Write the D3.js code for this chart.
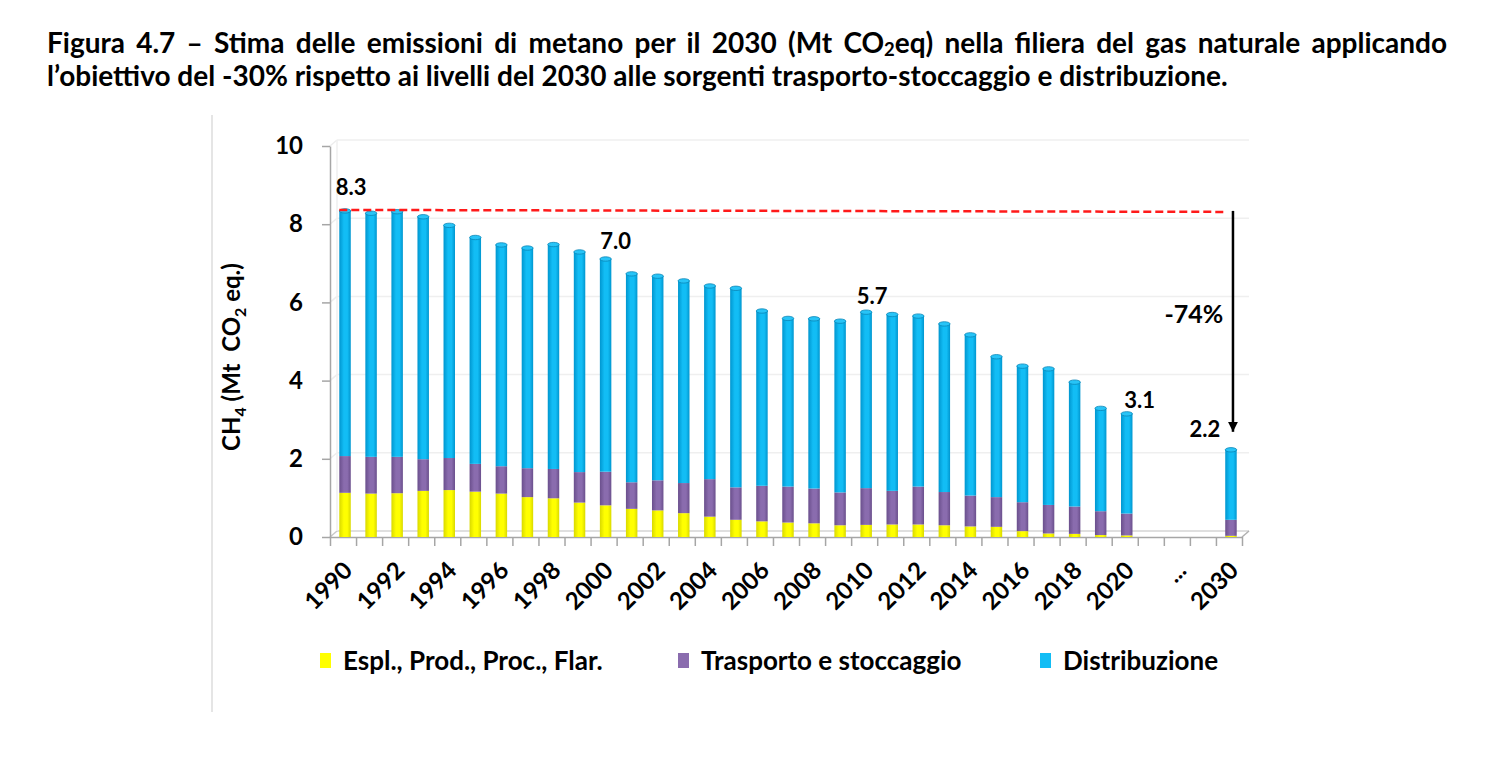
<!DOCTYPE html>
<html>
<head>
<meta charset="utf-8">
<script src="https://cdn.jsdelivr.net/npm/d3@7"></script>
<style>
	body { margin: 0; background: #fff; }
	svg { display: block; font-family: Lato, "Open Sans", sans-serif; font-weight: bold; }
</style>
</head>
<body>
<svg id="chart" width="1500" height="757"></svg>
<script>
//Categories: the years, then two empty slots around "..." and the 2030 target
var categories = ["1990","1991","1992","1993","1994","1995","1996","1997","1998","1999",
	"2000","2001","2002","2003","2004","2005","2006","2007","2008","2009",
	"2010","2011","2012","2013","2014","2015","2016","2017","2018","2019",
	"2020","gapA","...","gapB","2030"];

var tickLabels = ["1990","","1992","","1994","","1996","","1998","",
	"2000","","2002","","2004","","2006","","2008","",
	"2010","","2012","","2014","","2016","","2018","",
	"2020","","...","","2030"];

//Mt CO2 eq.
var espl = [1.13,1.11,1.12,1.18,1.20,1.16,1.11,1.02,0.99,0.88,
	0.81,0.72,0.68,0.61,0.52,0.44,0.40,0.37,0.35,0.30,
	0.31,0.32,0.32,0.30,0.27,0.26,0.15,0.09,0.08,0.05,
	0.04,null,null,null,0.03];

var trasporto = [0.94,0.94,0.93,0.81,0.82,0.71,0.70,0.74,0.75,0.78,
	0.86,0.68,0.77,0.77,0.96,0.83,0.91,0.92,0.89,0.84,
	0.94,0.86,0.97,0.85,0.79,0.76,0.74,0.73,0.70,0.61,
	0.56,null,null,null,0.41];

var distribuzione = [6.27,6.23,6.27,6.20,5.95,5.79,5.66,5.63,5.74,5.63,
	5.44,5.33,5.22,5.17,4.94,5.09,4.47,4.30,4.34,4.38,
	4.50,4.51,4.36,4.30,4.11,3.59,3.48,3.48,3.18,2.63,
	2.55,null,null,null,1.79];

var yTicks = [0, 2, 4, 6, 8, 10];

var seriesKeys = ["espl", "trasporto", "distribuzione"];
var seriesNames = ["Espl., Prod., Proc., Flar.", "Trasporto e stoccaggio", "Distribuzione"];

//Labelled totals
var labelCats = ["1990", "2000", "2010", "2020", "2030"];
var labelTexts = ["8.3", "7.0", "5.7", "3.1", "2.2"];

var reductionText = "-74%";

var titleLine1 = ["Figura 4.7 – Stima delle emissioni di metano per il 2030 (Mt CO", "2", "eq) nella filiera del gas naturale applicando"];
var titleLine2 = "l’obiettivo del -30% rispetto ai livelli del 2030 alle sorgenti trasporto-stoccaggio e distribuzione.";

var colors = {
	espl: { mid: "#ffff00", edge: "#d9d900", line: "#c8c800" },
	trasporto: { mid: "#8a6cae", edge: "#6a4f8c", line: "#5f4680" },
	distribuzione: { mid: "#12bdf5", edge: "#0096cf", line: "#0a86b8" }
};

var svg = d3.select("#chart");

//Rows for the stack
var rows = categories.map(function(c, i) {
	return { cat: c, espl: espl[i] || 0, trasporto: trasporto[i] || 0, distribuzione: distribuzione[i] || 0 };
});

//Scales
var x = d3.scaleBand()
	.domain(categories)
	.range([330, 1242])
	.paddingInner(0.56)
	.paddingOuter(0.28);

var y = d3.scaleLinear()
	.domain([0, 10])
	.range([537, 146]);

var xb = d3.scaleLinear()
	.domain([0, categories.length])
	.range(x.range());

//Gradients for the cylinder look
var defs = svg.append("defs");
seriesKeys.forEach(function(k) {
	var g = defs.append("linearGradient")
		.attr("id", "grad-" + k)
		.attr("x1", "0%").attr("x2", "100%");
	g.append("stop").attr("offset", "0%").attr("stop-color", colors[k].edge);
	g.append("stop").attr("offset", "40%").attr("stop-color", colors[k].mid);
	g.append("stop").attr("offset", "70%").attr("stop-color", colors[k].mid);
	g.append("stop").attr("offset", "100%").attr("stop-color", colors[k].edge);
});

defs.append("marker")
	.attr("id", "arrowhead")
	.attr("viewBox", "0 0 10 10")
	.attr("refX", 10).attr("refY", 5)
	.attr("markerWidth", 4).attr("markerHeight", 4)
	.attr("markerUnits", "strokeWidth")
	.attr("orient", "auto")
	.append("path")
	.attr("d", "M0,0 L10,5 L0,10 Z")
	.attr("fill", "#000");

//Left page rule
svg.append("line")
	.attr("x1", 212).attr("x2", 212)
	.attr("y1", 115).attr("y2", 712)
	.attr("stroke", "#dcdcdc").attr("stroke-width", 1.5);

//Title: first line justified with word-spacing, second line left aligned
var title = svg.append("g").attr("class", "title");
var t2 = title.append("text")
	.attr("x", 47).attr("y", 86)
	.attr("font-size", 21)
	.text(titleLine2);
var fs = 21 * 1181 / t2.node().getComputedTextLength();
t2.attr("font-size", fs);

var t1 = title.append("text")
	.attr("x", 47).attr("y", 53)
	.attr("font-size", fs);
t1.append("tspan").text(titleLine1[0]);
t1.append("tspan").text(titleLine1[1]).attr("font-size", fs * 0.66).attr("dy", fs * 0.12);
t1.append("tspan").text(titleLine1[2]).attr("dy", -fs * 0.12);
var spaces = titleLine1.join("").split(" ").length - 1;
var w1 = t1.node().getComputedTextLength();
t1.attr("word-spacing", (1447 - 47 - w1) / spaces);

//3D-ish gridlines (pushed back into the chart)
var depthX = 7, depthY = -6;
var grid = svg.append("g").attr("class", "grid");
grid.selectAll("line.h")
	.data(yTicks)
	.enter().append("line")
	.attr("class", "h")
	.attr("x1", 330 + depthX).attr("x2", 1242 + depthX)
	.attr("y1", function(d) { return y(d) + depthY; })
	.attr("y2", function(d) { return y(d) + depthY; })
	.attr("stroke", function(d) { return d === 0 ? "#d4d4d4" : "#efefef"; })
	.attr("stroke-width", 1.5);
grid.selectAll("line.d")
	.data(yTicks)
	.enter().append("line")
	.attr("class", "d")
	.attr("x1", 330).attr("x2", 330 + depthX)
	.attr("y1", function(d) { return y(d); })
	.attr("y2", function(d) { return y(d) + depthY; })
	.attr("stroke", function(d) { return d === 0 ? "#c8c8c8" : "#ededed"; })
	.attr("stroke-width", 1.5);
grid.append("line")
	.attr("x1", 1242).attr("x2", 1242 + depthX)
	.attr("y1", y(0)).attr("y2", y(0) + depthY)
	.attr("stroke", "#b0b0b0").attr("stroke-width", 1.5);
grid.append("line")
	.attr("x1", 330 + depthX).attr("x2", 330 + depthX)
	.attr("y1", y(10) + depthY).attr("y2", y(0) + depthY)
	.attr("stroke", "#efefef").attr("stroke-width", 1.5);

//Y axis
var yAxis = svg.append("g")
	.attr("class", "y axis")
	.attr("transform", "translate(330,0)")
	.call(d3.axisLeft(y).tickValues(yTicks).tickSize(8).tickSizeOuter(0).tickPadding(19));
yAxis.select(".domain").attr("stroke", "#a6a6a6").attr("stroke-width", 1.5);
yAxis.selectAll(".tick line").attr("stroke", "#a6a6a6").attr("stroke-width", 1.5);
yAxis.selectAll(".tick text")
	.attr("font-size", 24)
	.attr("font-family", "Lato, sans-serif")
	.attr("font-weight", "bold")
	.attr("fill", "#000");

//Y axis label
var yl = svg.append("text")
	.attr("transform", "translate(240,357) rotate(-90)")
	.attr("text-anchor", "middle")
	.attr("font-size", 24)
	.style("white-space", "pre");
yl.append("tspan").text("CH");
yl.append("tspan").text("4").attr("font-size", 16).attr("dy", 6);
yl.append("tspan").text(" (Mt  CO").attr("dy", -6);
yl.append("tspan").text("2").attr("font-size", 16).attr("dy", 6);
yl.append("tspan").text(" eq.)").attr("dy", -6);

//X axis: tick marks on slot boundaries
var xAxis = svg.append("g")
	.attr("class", "x axis")
	.attr("transform", "translate(0," + y(0) + ")")
	.call(d3.axisBottom(xb).tickValues(d3.range(categories.length + 1)).tickFormat("").tickSize(9).tickSizeOuter(0));
xAxis.select(".domain").attr("stroke", "#a6a6a6").attr("stroke-width", 1.5);
xAxis.selectAll(".tick line").attr("stroke", "#a6a6a6").attr("stroke-width", 1.5);

svg.append("g")
	.attr("class", "x labels")
	.selectAll("text")
	.data(categories)
	.enter().append("text")
	.attr("transform", function(d) {
		return "translate(" + (x(d) + x.bandwidth() / 2 + 5) + "," + (y(0) + 29) + ") rotate(-45)";
	})
	.attr("text-anchor", "end")
	.attr("dy", "0.35em")
	.attr("font-size", 24)
	.text(function(d, i) { return tickLabels[i]; });

//Stacked bars
var stack = d3.stack().keys(seriesKeys);
var serie = svg.append("g")
	.attr("class", "bars")
	.attr("transform", "translate(2,0)")
	.selectAll(".serie")
	.data(stack(rows))
	.enter().append("g")
	.attr("class", function(d) { return "serie " + d.key; });

serie.selectAll("rect")
	.data(function(d) { return d.map(function(p) { p.key = d.key; return p; }); })
	.enter().append("rect")
	.filter(function(d) { return d[1] > d[0]; })
	.attr("x", function(d) { return x(d.data.cat); })
	.attr("y", function(d) { return y(d[1]); })
	.attr("height", function(d) { return y(d[0]) - y(d[1]); })
	.attr("width", x.bandwidth())
	.attr("fill", function(d) { return "url(#grad-" + d.key + ")"; });

//Top caps of the cylinders
svg.select(".serie.distribuzione").selectAll("ellipse")
	.data(function(d) { return d.filter(function(p) { return p[1] > 0; }); })
	.enter().append("ellipse")
	.attr("cx", function(d) { return x(d.data.cat) + x.bandwidth() / 2; })
	.attr("cy", function(d) { return y(d[1]); })
	.attr("rx", x.bandwidth() / 2)
	.attr("ry", 2.2)
	.attr("fill", "#27c4f7")
	.attr("stroke", colors.distribuzione.line)
	.attr("stroke-width", 0.8);

//Totals
var total = function(cat) {
	var i = categories.indexOf(cat);
	return espl[i] + trasporto[i] + distribuzione[i];
};
var labelOffsets = [[8, -24], [12, -18], [8, -16], [15, -14], [-24, -21]];
svg.append("g")
	.attr("class", "totals")
	.selectAll("text")
	.data(labelCats)
	.enter().append("text")
	.attr("x", function(d, i) { return x(d) + x.bandwidth() / 2 + labelOffsets[i][0]; })
	.attr("y", function(d, i) { return y(total(d)) + labelOffsets[i][1]; })
	.attr("dy", "0.35em")
	.attr("text-anchor", "middle")
	.attr("font-size", 22)
	.text(function(d, i) { return labelTexts[i]; });

//Reference line at the 1990 level and reduction arrow to 2030
var start = total("1990");
var end = total("2030");
var arrowX = x("2030") + x.bandwidth() / 2 + 4;
svg.append("line")
	.attr("x1", x("1990") + 2).attr("x2", arrowX - 7)
	.attr("y1", y(start) - 1).attr("y2", y(start) + 1)
	.attr("stroke", "#ff1a1a")
	.attr("stroke-width", 2.5)
	.attr("stroke-dasharray", "8,4");

svg.append("line")
	.attr("x1", arrowX).attr("x2", arrowX)
	.attr("y1", y(start)).attr("y2", y(end) - 18)
	.attr("stroke", "#000")
	.attr("stroke-width", 2.5)
	.attr("marker-end", "url(#arrowhead)");

svg.append("text")
	.attr("x", arrowX - 39)
	.attr("y", y((start + end) / 2) - 16)
	.attr("dy", "0.35em")
	.attr("text-anchor", "middle")
	.attr("font-size", 25)
	.text(reductionText);

//Legend
var legendX = [320, 678, 1040];
var legend = svg.append("g")
	.attr("class", "legend")
	.selectAll("g")
	.data(seriesKeys)
	.enter().append("g")
	.attr("transform", function(d, i) { return "translate(" + legendX[i] + ",653)"; });

legend.append("rect")
	.attr("width", 11)
	.attr("height", 15)
	.attr("fill", function(d) { return colors[d].mid; });

legend.append("text")
	.attr("x", 23)
	.attr("y", 8)
	.attr("dy", "0.35em")
	.attr("font-size", 26)
	.text(function(d, i) { return seriesNames[i]; });
</script>
</body>
</html>
